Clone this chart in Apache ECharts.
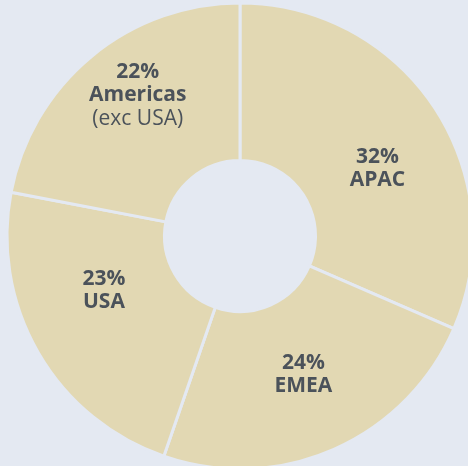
<!DOCTYPE html>
<html>
<head>
<meta charset="utf-8">
<script src="https://cdn.jsdelivr.net/npm/echarts@6/dist/echarts.min.js"></script>
<style>
  html, body { margin: 0; padding: 0; background: #e4e9f2; }
  #chart { width: 468px; height: 466px; }
</style>
</head>
<body>
<div id="chart"></div>
<script>
// regions, clockwise from 12 o'clock
var regions = ['APAC', 'EMEA', 'USA', 'Americas'];
var regionNotes = ['', '', '', '(exc USA)'];
// share of total (%)
var shares = [31.5, 23.8, 22.7, 22.0];

// small nudges so the labels sit where the original had them
var labelNudge = [[6, 19], [0, -5], [0, -24], [-2, -19]];

var myChart = echarts.init(document.getElementById('chart'));

var pieData = [];
for (var i = 0; i < regions.length; i++) {
    pieData.push({ name: regions[i], value: shares[i], note: regionNotes[i] });
}

myChart.setOption({
    backgroundColor: '#e4e9f2',
    animation: false,
    series: [{
        type: 'pie',
        center: [240, 236],
        radius: [75.5, 233],
        startAngle: 90,
        clockwise: true,
        data: pieData,
        itemStyle: {
            color: '#e2d8b3',
            borderColor: '#e4e9f2',
            borderWidth: 3
        },
        emphasis: { disabled: true },
        label: {
            show: true,
            position: 'inside',
            formatter: function (p) {
                var s = '{b|' + Math.round(p.value) + '%}\n{b|' + p.name + '}';
                if (p.data.note) s += '\n{n|' + p.data.note + '}';
                return s;
            },
            rich: {
                b: { fontFamily: 'Open Sans', fontWeight: 'bold', fontSize: 21, lineHeight: 23, color: '#4b525a' },
                n: { fontFamily: 'Open Sans', fontWeight: 'normal', fontSize: 21, lineHeight: 24, color: '#4b525a' }
            }
        },
        labelLine: { show: false },
        labelLayout: function (params) {
            var d = labelNudge[params.dataIndex];
            return { dx: d[0], dy: d[1] };
        }
    }]
});
</script>
</body>
</html>
